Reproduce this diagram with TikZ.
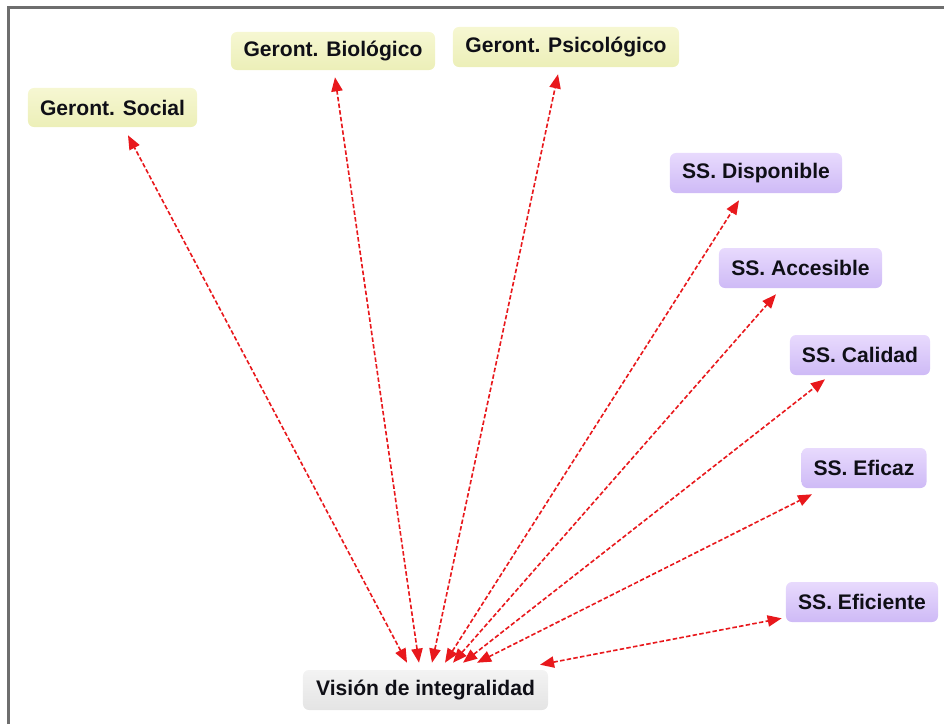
\documentclass[tikz,border=0pt]{standalone}
\usepackage{fontspec}
\setmainfont{Liberation Sans}
\usetikzlibrary{arrows.meta,calc}

\definecolor{frameline}{RGB}{110,110,110}
\definecolor{inktext}{RGB}{15,15,22}
\definecolor{geroTop}{RGB}{246,247,210}
\definecolor{geroBot}{RGB}{236,239,184}
\definecolor{ssTop}{RGB}{232,218,253}
\definecolor{ssBot}{RGB}{206,186,246}
\definecolor{visTop}{RGB}{243,243,243}
\definecolor{visBot}{RGB}{228,228,228}
\definecolor{linkred}{RGB}{232,24,28}

\tikzset{
  conceptbox/.style={rounded corners=0.15cm, inner sep=0pt, align=center,
    minimum height=1cm, text=inktext,
    font=\fontsize{15}{18}\selectfont\bfseries},
  gerobox/.style={conceptbox, top color=geroTop, bottom color=geroBot},
  ssbox/.style={conceptbox, top color=ssTop, bottom color=ssBot},
  visbox/.style={conceptbox, top color=visTop, bottom color=visBot},
  link/.style={draw=linkred, line width=1.15pt, dash pattern=on 3.2pt off 1.6pt,
    {Triangle[length=10pt,width=8pt]}-{Triangle[length=10pt,width=8pt]}}
}

\begin{document}
\begin{tikzpicture}[x=0.025cm, y=-0.025cm]
\useasboundingbox (0,0) rectangle (944,724);

% outer frame (top and left edges)
\draw[frameline, line width=1.5pt] (8.5,724) -- (8.5,7.5) -- (944,7.5);

% concept nodes
\node[gerobox, minimum width=4.225cm, minimum height=0.975cm] (soc) at (112.5,107.5) {Geront. Social};
\node[gerobox, minimum width=5.1cm, minimum height=0.95cm] (bio) at (333,51) {Geront. Biológico};
\node[gerobox, minimum width=5.65cm] (psi) at (566,47) {Geront. Psicológico};
\node[ssbox, minimum width=4.3cm] (dis) at (756,173) {SS. Disponible};
\node[ssbox, minimum width=4.075cm] (acc) at (800.5,268) {SS. Accesible};
\node[ssbox, minimum width=3.5cm] (cal) at (860,355) {SS. Calidad};
\node[ssbox, minimum width=3.125cm] (efz) at (864,468) {SS. Eficaz};
\node[ssbox, minimum width=3.8cm] (efi) at (862,602) {SS. Eficiente};
\node[visbox, minimum width=6.125cm] (vis) at (425.5,690) {Visión de integralidad};

% two-way links from the central concept
\draw[link] ($(vis.north)+(-18.5,-7)$) -- ($(soc.south)+(15.5,8)$);
\draw[link] ($(vis.north)+(-6.5,-7)$) -- ($(bio.south)+(2,7)$);
\draw[link] ($(vis.north)+(6.5,-7)$) -- ($(psi.south)+(-8,7)$);
\draw[link] ($(vis.north)+(19.5,-7)$) -- ($(dis.south)+(-17,7)$);
\draw[link] ($(vis.north)+(27.5,-7)$) -- ($(acc.south)+(-24.5,6)$);
\draw[link] ($(vis.north)+(37.5,-7)$) -- ($(cal.south)+(-35,4)$);
\draw[link] ($(vis.north)+(51.5,-7)$) -- ($(efz.south)+(-52,6)$);
\draw[link] ($(vis.north)+(114.5,-5)$) -- ($(efi.south west)+(-4,-4)$);
\end{tikzpicture}
\end{document}
